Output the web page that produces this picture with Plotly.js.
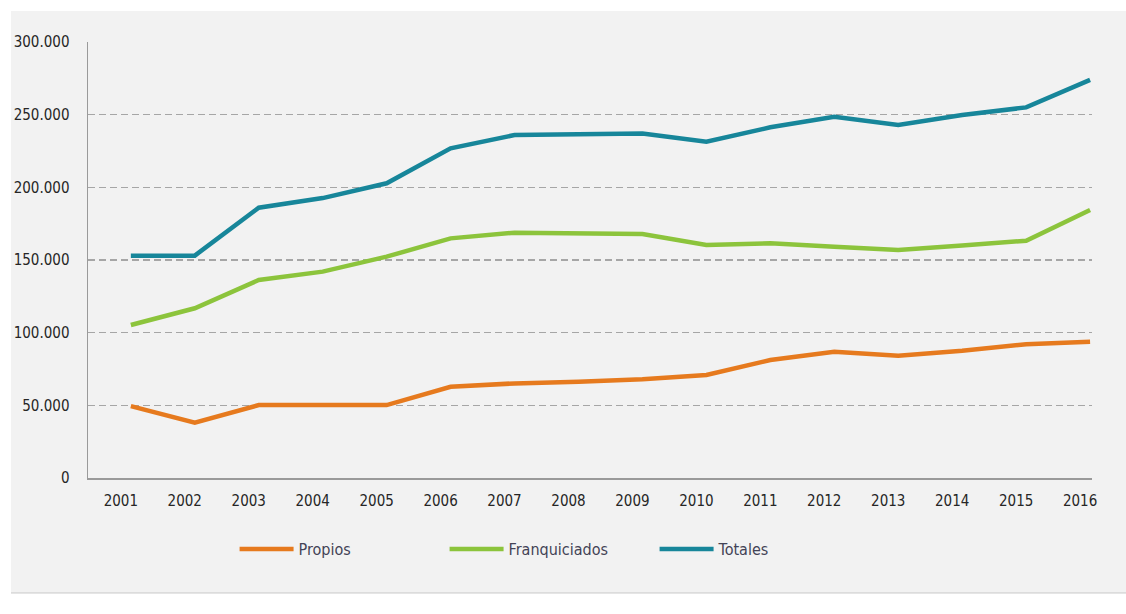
<!DOCTYPE html>
<html>
<head>
<meta charset="utf-8">
<script src="https://cdn.plot.ly/plotly-3.0.1.min.js"></script>
<style>
  html, body { margin: 0; padding: 0; background: #ffffff; }
  #chart { width: 1126px; height: 614px; }
</style>
</head>
<body>
<div id="chart"></div>
<script>
const years = [2001, 2002, 2003, 2004, 2005, 2006, 2007, 2008, 2009, 2010, 2011, 2012, 2013, 2014, 2015, 2016];
const yearLabels = ["2001","2002","2003","2004","2005","2006","2007","2008","2009","2010","2011","2012","2013","2014","2015","2016"];
const propios = [49500, 38000, 50200, 50200, 50200, 62800, 65100, 66300, 67900, 70900, 81200, 86900, 84200, 87600, 92000, 93800];
const franquiciados = [105300, 116800, 136200, 142000, 152300, 164900, 168800, 168300, 167900, 160300, 161500, 159200, 156900, 159900, 163300, 184400];
const totales = [153000, 153000, 186000, 192600, 202800, 226800, 236000, 236500, 237000, 231400, 241300, 248600, 242900, 249800, 255000, 273900];
const yTicks = [0, 50000, 100000, 150000, 200000, 250000, 300000];
const seriesNames = ["Propios", "Franquiciados", "Totales"];

const FONT = "DejaVu Sans Condensed, Liberation Sans Narrow, Arial Narrow, sans-serif";

const traces = [
  { x: years, y: propios, name: seriesNames[0], type: "scatter", mode: "lines",
    line: { color: "#E67A1E", width: 4.5 }, hoverinfo: "skip" },
  { x: years, y: franquiciados, name: seriesNames[1], type: "scatter", mode: "lines",
    line: { color: "#8CC43C", width: 4.5 }, hoverinfo: "skip" },
  { x: years, y: totales, name: seriesNames[2], type: "scatter", mode: "lines",
    line: { color: "#17869A", width: 4.5 }, hoverinfo: "skip" }
];

const layout = {
  width: 1126, height: 614,
  margin: { l: 88, r: 34, t: 42, b: 136 },
  paper_bgcolor: "#ffffff",
  plot_bgcolor: "rgba(0,0,0,0)",
  separators: ",.",
  font: { family: FONT, size: 15, color: "#262626" },
  showlegend: true,
  legend: {
    orientation: "h", x: 0.146, xanchor: "left", y: -0.163, yanchor: "middle",
    font: { family: FONT, size: 16, color: "#434356" },
    bgcolor: "rgba(0,0,0,0)",
    itemwidth: 54,
    entrywidth: 141, entrywidthmode: "pixels",
    traceorder: "normal"
  },
  xaxis: {
    type: "linear",
    range: [2000.33, 2016.03],
    tickmode: "array", tickvals: years, ticktext: yearLabels,
    ticklabelshift: -10,
    ticks: "outside", ticklen: 8, tickcolor: "rgba(0,0,0,0)",
    showgrid: false, zeroline: false,
    showline: true, linecolor: "#9a9a9a", linewidth: 1.5,
    tickfont: { family: FONT, size: 15, color: "#262626" },
    fixedrange: true
  },
  yaxis: {
    range: [0, 300000],
    tickmode: "array", tickvals: yTicks,
    tickformat: ",d",
    ticks: "outside", ticklen: 14, tickcolor: "rgba(0,0,0,0)",
    showgrid: true, gridcolor: "#a6a6a6", gridwidth: 1.2, griddash: "7px,4px",
    zeroline: false,
    showline: true, linecolor: "#9a9a9a", linewidth: 1.5,
    tickfont: { family: FONT, size: 15, color: "#262626" },
    fixedrange: true
  },
  shapes: [
    { type: "rect", xref: "paper", yref: "paper", layer: "below",
      x0: -0.0767, x1: 1.0339, y0: -0.2615, y1: 1.0711,
      fillcolor: "#f2f2f2", line: { width: 0 } },
    { type: "rect", xref: "paper", yref: "paper", layer: "below",
      x0: -0.0767, x1: 1.0339, y0: -0.2655, y1: -0.2615,
      fillcolor: "#dcdcdc", line: { width: 0 } }
  ]
};

Plotly.newPlot("chart", traces, layout, { displayModeBar: false, staticPlot: true });
</script>
</body>
</html>
